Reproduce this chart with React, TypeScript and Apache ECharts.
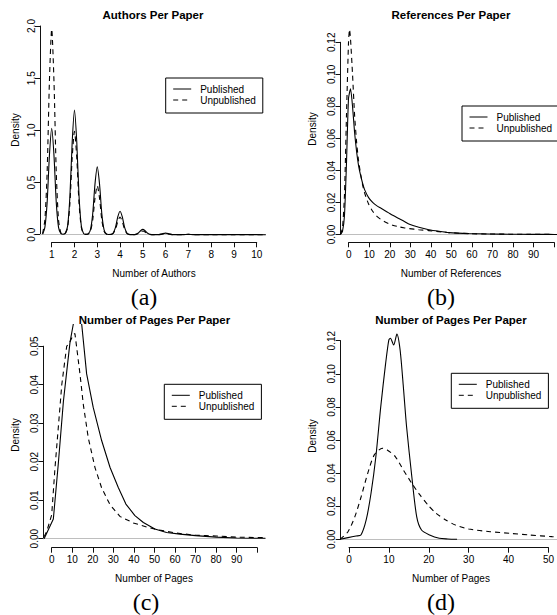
import React, { useEffect, useRef } from "react";
import * as echarts from "echarts";

// ---------- data ----------
// (a) Authors per paper
const authorsX = [0.6, 0.7, 0.8, 0.9, 1.0, 1.1, 1.2, 1.3, 1.4, 1.5, 1.6, 1.7, 1.8, 1.9, 2.0, 2.1, 2.2, 2.3, 2.4, 2.5, 2.6, 2.7, 2.8, 2.9, 3.0, 3.1, 3.2, 3.3, 3.4, 3.5, 3.6, 3.7, 3.8, 3.9, 4.0, 4.1, 4.2, 4.3, 4.4, 4.5, 4.6, 4.7, 4.8, 4.9, 5.0, 5.1, 5.2, 5.3, 5.4, 5.5, 5.7, 5.85, 6.0, 6.15, 6.3, 6.5, 6.8, 7.0, 7.2, 7.5, 8.0, 9.0, 10.0, 10.4];
const authorsPublished = [0.005, 0.07, 0.31, 0.76, 1.02, 0.76, 0.31, 0.07, 0.012, 0.005, 0.015, 0.085, 0.37, 0.89, 1.195, 0.89, 0.37, 0.085, 0.012, 0.004, 0.008, 0.047, 0.2, 0.485, 0.65, 0.485, 0.2, 0.047, 0.007, 0.002, 0.003, 0.017, 0.07, 0.17, 0.225, 0.17, 0.07, 0.017, 0.003, 0.001, 0.001, 0.004, 0.016, 0.038, 0.051, 0.038, 0.016, 0.004, 0.001, 0.0005, 0.001, 0.009, 0.015, 0.009, 0.001, 0.0005, 0.001, 0.004, 0.001, 0.0005, 0.0008, 0.0005, 0.0003, 0];
const authorsUnpublished = [0.01, 0.14, 0.6, 1.47, 1.97, 1.47, 0.6, 0.14, 0.02, 0.004, 0.012, 0.07, 0.3, 0.74, 0.99, 0.74, 0.3, 0.07, 0.01, 0.003, 0.006, 0.033, 0.14, 0.35, 0.47, 0.35, 0.14, 0.033, 0.005, 0.001, 0.002, 0.012, 0.052, 0.125, 0.17, 0.125, 0.052, 0.012, 0.002, 0.001, 0.001, 0.003, 0.011, 0.026, 0.035, 0.026, 0.011, 0.003, 0.001, 0.0005, 0.001, 0.005, 0.008, 0.005, 0.001, 0.0005, 0.001, 0.003, 0.001, 0.0005, 0.0005, 0.0004, 0.0002, 0];

// (b) References per paper
const refsPubX = [-4, -3, -2, -1, 0, 1, 2, 3, 4, 5, 6, 7, 8, 10, 12, 14, 16, 18, 20, 22, 25, 28, 30, 35, 40, 45, 50, 60, 70, 80, 90, 100, 105];
const refsPubY = [0, 0.002, 0.012, 0.045, 0.085, 0.091, 0.08, 0.064, 0.052, 0.043, 0.037, 0.032, 0.028, 0.023, 0.02, 0.018, 0.0165, 0.015, 0.0135, 0.012, 0.0100, 0.008, 0.0065, 0.0045, 0.003, 0.002, 0.0012, 0.0006, 0.0003, 0.0002, 0.0001, 0.00005, 0];
const refsUnpX = [-4, -3, -2, -1, 0, 0.5, 1, 2, 3, 4, 5, 6, 7, 8, 10, 12, 14, 16, 18, 20, 22, 25, 28, 30, 35, 40, 45, 50, 60, 70, 80, 90, 100, 105];
const refsUnpY = [0, 0.004, 0.025, 0.075, 0.12, 0.128, 0.122, 0.1, 0.075, 0.058, 0.046, 0.038, 0.031, 0.026, 0.019, 0.0145, 0.0115, 0.0095, 0.008, 0.0068, 0.0058, 0.0048, 0.0041, 0.0037, 0.003, 0.0024, 0.0018, 0.0012, 0.0005, 0.0003, 0.0002, 0.0001, 0.00005, 0];

// (c) Number of pages per paper
const pagesCPubX = [-3.7, 0.8, 3.2, 5.7, 8.9, 10.5, 12.5, 14.6, 17, 20.2, 24.3, 28.4, 32.4, 36.1, 40.5, 44.6, 50.2, 55.9, 62.4, 70, 80, 90, 100, 104];
const pagesCPubY = [0, 0.0051, 0.0194, 0.0357, 0.051, 0.0557, 0.059, 0.0557, 0.0428, 0.0341, 0.0255, 0.0185, 0.0133, 0.009, 0.006, 0.0042, 0.0025, 0.0016, 0.0012, 0.0008, 0.0004, 0.0002, 0.0001, 0.0001];
const pagesCUnpX = [-3.7, -2.4, 0, 1.6, 3.2, 4.9, 7.3, 8.3, 10.5, 11.3, 12.2, 13.8, 15.4, 17.8, 21.1, 24.3, 28.4, 33.2, 39.7, 47.8, 51.1, 60, 70, 75, 80, 90, 100, 104];
const pagesCUnpY = [0.0005, 0.0019, 0.0062, 0.0184, 0.0288, 0.04, 0.05, 0.0505, 0.053, 0.0533, 0.0495, 0.0426, 0.0348, 0.0262, 0.0184, 0.0132, 0.0088, 0.0058, 0.0041, 0.0028, 0.0024, 0.0015, 0.0009, 0.0008, 0.0007, 0.0004, 0.0003, 0.0003];

// (d) Number of pages per paper
const pagesDPubX = [-2.2, -0.2, 1.8, 3.0, 4.3, 5.5, 6.7, 7.9, 9.1, 9.9, 10.3, 11.1, 11.9, 12.7, 13.5, 14.3, 15.6, 16.8, 18.0, 20.0, 22.4, 24.5, 26.8];
const pagesDPubY = [0, 0.001, 0.002, 0.0026, 0.0117, 0.0278, 0.05, 0.08, 0.106, 0.1204, 0.1215, 0.1174, 0.124, 0.1144, 0.0922, 0.068, 0.0378, 0.0137, 0.0056, 0.0026, 0.0006, 0.0002, 0];
const pagesDUnpX = [-2.2, -0.2, 1.5, 3.05, 4.7, 6.3, 8.3, 9.5, 11.5, 13.5, 15.6, 17.6, 19.6, 21.6, 24.0, 26.4, 29.7, 35, 39.8, 44.7, 50.3, 55];
const pagesDUnpY = [0, 0.0046, 0.0137, 0.0257, 0.04, 0.051, 0.055, 0.054, 0.05, 0.0419, 0.0338, 0.0268, 0.0207, 0.0157, 0.0117, 0.0086, 0.0062, 0.0046, 0.0036, 0.0026, 0.0016, 0.001];

const seriesNames = ["Published", "Unpublished"];
const titles = ["Authors Per Paper", "References Per Paper", "Number of Pages Per Paper", "Number of Pages Per Paper"];
const xNames = ["Number of Authors", "Number of References", "Number of Pages", "Number of Pages"];
const yName = "Density";
const captions = ["(a)", "(b)", "(c)", "(d)"];
// tick specs [first, last, step]
const xTickSpecs = [[1, 10, 1], [0, 100, 10], [0, 100, 10], [0, 50, 10]];
const yTickSpecs = [[0, 2, 0.5], [0, 0.12, 0.02], [0, 0.05, 0.01], [0, 0.12, 0.02]];
const xHiddenLabels = [[], [100], [100], []];
const yDecimals = [1, 2, 2, 2];

// ---------- layout (pixels) ----------
const FONT = '"Liberation Sans", Arial, Helvetica, sans-serif';
const SERIF = '"Liberation Serif", "Times New Roman", serif';
const AX = "#111";

const layouts = [
  { xv0: 1, xp0: 51.7, xppu: 22.78, yv0: 0, yp0: 234.7, yppu: 104.35, L: 40, R: 265.7, T: 17, B: 242.3,
    yAxisX: 40, xAxisY: 242.3, title: [153, 15], xName: [154, 273], yName: [15, 130], cap: [144, 297],
    legend: [165.7, 78], smooth: 0.25 },
  { xv0: 0, xp0: 348.7, xppu: 2.056, yv0: 0, yp0: 234.5, yppu: 1602, L: 340.5, R: 562, T: 18, B: 242.3,
    yAxisX: 340.5, xAxisY: 242.3, title: [451, 15], xName: [451, 273], yName: [312, 129], cap: [441, 297],
    legend: [462, 106], smooth: 0.2 },
  { xv0: 0, xp0: 51.7, xppu: 2.055, yv0: 0, yp0: 538.7, yppu: 3850, L: 43.3, R: 265.7, T: 324.5, B: 547.7,
    yAxisX: 43.3, xAxisY: 547.7, title: [154.5, 320], xName: [154, 578.4], yName: [15, 435], cap: [146, 601.5],
    legend: [164.3, 384.3], smooth: false },
  { xv0: 0, xp0: 349, xppu: 4.133, yv0: 0, yp0: 539.3, yppu: 1655, L: 340.7, R: 562, T: 324.5, B: 547.7,
    yAxisX: 340.7, xAxisY: 547.7, title: [451, 320], xName: [451, 578.4], yName: [312, 436], cap: [441, 601.5],
    legend: [451.3, 373.3], smooth: 0.25 },
];

const panelData = [
  [[authorsX, authorsPublished], [authorsX, authorsUnpublished]],
  [[refsPubX, refsPubY], [refsUnpX, refsUnpY]],
  [[pagesCPubX, pagesCPubY], [pagesCUnpX, pagesCUnpY]],
  [[pagesDPubX, pagesDPubY], [pagesDUnpX, pagesDUnpY]],
];

function buildOption() {
  const grid: any[] = [];
  const xAxis: any[] = [];
  const yAxis: any[] = [];
  const series: any[] = [];
  const legend: any[] = [];
  const graphic: any[] = [];

  layouts.forEach((p, i) => {
    const xpx = (v: number) => p.xp0 + (v - p.xv0) * p.xppu;
    const xval = (px: number) => p.xv0 + (px - p.xp0) / p.xppu;
    const ypx = (v: number) => p.yp0 - (v - p.yv0) * p.yppu;
    const yval = (py: number) => p.yv0 + (p.yp0 - py) / p.yppu;
    const [x0, x1, xs] = xTickSpecs[i];
    const [y0, y1, ys] = yTickSpecs[i];

    // data grid
    const gData = grid.length;
    grid.push({ left: p.L, top: p.T, width: p.R - p.L, height: p.B - p.T });
    const xiData = xAxis.length;
    xAxis.push({ gridIndex: gData, type: "value", min: xval(p.L), max: xval(p.R), show: false });
    const yiData = yAxis.length;
    yAxis.push({ gridIndex: gData, type: "value", min: yval(p.B), max: yval(p.T), show: false });

    // x axis grid
    const gX = grid.length;
    grid.push({ left: xpx(x0), top: p.xAxisY - 10, width: xpx(x1) - xpx(x0), height: 10 });
    xAxis.push({
      gridIndex: gX, type: "value", position: "bottom", min: x0, max: x1, interval: xs,
      axisLine: { show: true, lineStyle: { color: AX, width: 1 } },
      axisTick: { show: true, length: 5, inside: false, lineStyle: { color: AX, width: 1 } },
      splitLine: { show: false },
      axisLabel: {
        show: true, margin: 7, fontSize: 10, color: "#000", fontFamily: FONT,
        showMinLabel: true, showMaxLabel: true,
        formatter: (v: number) => (xHiddenLabels[i].some((h) => Math.abs(h - v) < 1e-9) ? "" : String(Math.round(v))),
      },
    });
    yAxis.push({ gridIndex: gX, type: "value", show: false });

    // y axis grid
    const gY = grid.length;
    grid.push({ left: p.yAxisX, top: ypx(y1), width: 10, height: ypx(y0) - ypx(y1) });
    yAxis.push({
      gridIndex: gY, type: "value", position: "left", min: y0, max: y1, interval: ys,
      axisLine: { show: true, lineStyle: { color: AX, width: 1 } },
      axisTick: { show: true, length: 5, inside: false, lineStyle: { color: AX, width: 1 } },
      splitLine: { show: false },
      axisLabel: {
        show: true, rotate: 90, margin: 4, fontSize: 10, color: "#000", fontFamily: FONT,
        showMinLabel: true, showMaxLabel: true,
        formatter: (v: number) => v.toFixed(yDecimals[i]),
      },
    });
    xAxis.push({ gridIndex: gY, type: "value", show: false });

    // series
    panelData[i].forEach(([xsArr, ysArr], k) => {
      const s: any = {
        type: "line",
        name: seriesNames[k],
        xAxisIndex: xiData,
        yAxisIndex: yiData,
        data: xsArr.map((x, j) => [x, ysArr[j]]),
        symbol: "none",
        showSymbol: false,
        smooth: p.smooth,
        clip: true,
        z: 3,
        lineStyle: { color: "#000", width: 1.1, type: k === 0 ? "solid" : [5, 4] },
        itemStyle: { color: "#000" },
      };
      if (k === 0) {
        s.markLine = {
          silent: true,
          symbol: ["none", "none"],
          label: { show: false },
          z: 1,
          lineStyle: { color: "#bebebe", type: "solid", width: 1 },
          data: [{ yAxis: 0 }],
        };
      }
      series.push(s);
    });

    legend.push({
      left: p.legend[0], top: p.legend[1], orient: "vertical",
      data: seriesNames,
      itemWidth: 18, itemHeight: 10, itemGap: 1,
      padding: [6, 7, 8, 7],
      borderColor: "#000", borderWidth: 1, borderRadius: 0,
      backgroundColor: "#fff",
      selectedMode: false,
      itemStyle: { color: "rgba(0,0,0,0)", borderColor: "rgba(0,0,0,0)", borderWidth: 0 },
      lineStyle: { width: 1, color: "#000" },
      textStyle: { fontSize: 10, color: "#000", fontFamily: FONT, lineHeight: 10, padding: [0, 0, 0, 4] },
    });

    // texts
    graphic.push({
      type: "text", x: p.title[0], y: p.title[1],
      style: { text: titles[i], fontSize: 11.5, fontWeight: "bold", fontFamily: FONT, fill: "#000", align: "center", verticalAlign: "middle" },
    });
    graphic.push({
      type: "text", x: p.xName[0], y: p.xName[1],
      style: { text: xNames[i], fontSize: 10, fontFamily: FONT, fill: "#000", align: "center", verticalAlign: "middle" },
    });
    graphic.push({
      type: "text", x: p.yName[0], y: p.yName[1], rotation: Math.PI / 2,
      style: { text: yName, fontSize: 10, fontFamily: FONT, fill: "#000", align: "center", verticalAlign: "middle" },
    });
    graphic.push({
      type: "text", x: p.cap[0], y: p.cap[1],
      style: { text: captions[i], fontSize: 24, fontFamily: SERIF, fill: "#000", align: "center", verticalAlign: "middle" },
    });
  });

  return {
    animation: false,
    backgroundColor: "#fff",
    grid, xAxis, yAxis, series, legend, graphic,
  };
}

export default function App() {
  const ref = useRef<HTMLDivElement>(null);
  useEffect(() => {
    document.body.style.margin = "0";
    if (!ref.current) return;
    const chart = echarts.init(ref.current, null, { renderer: "svg", width: 557, height: 615 });
    chart.setOption(buildOption() as any);
    return () => chart.dispose();
  }, []);
  return <div ref={ref} style={{ position: "absolute", left: 0, top: 0, width: 557, height: 615 }} />;
}
